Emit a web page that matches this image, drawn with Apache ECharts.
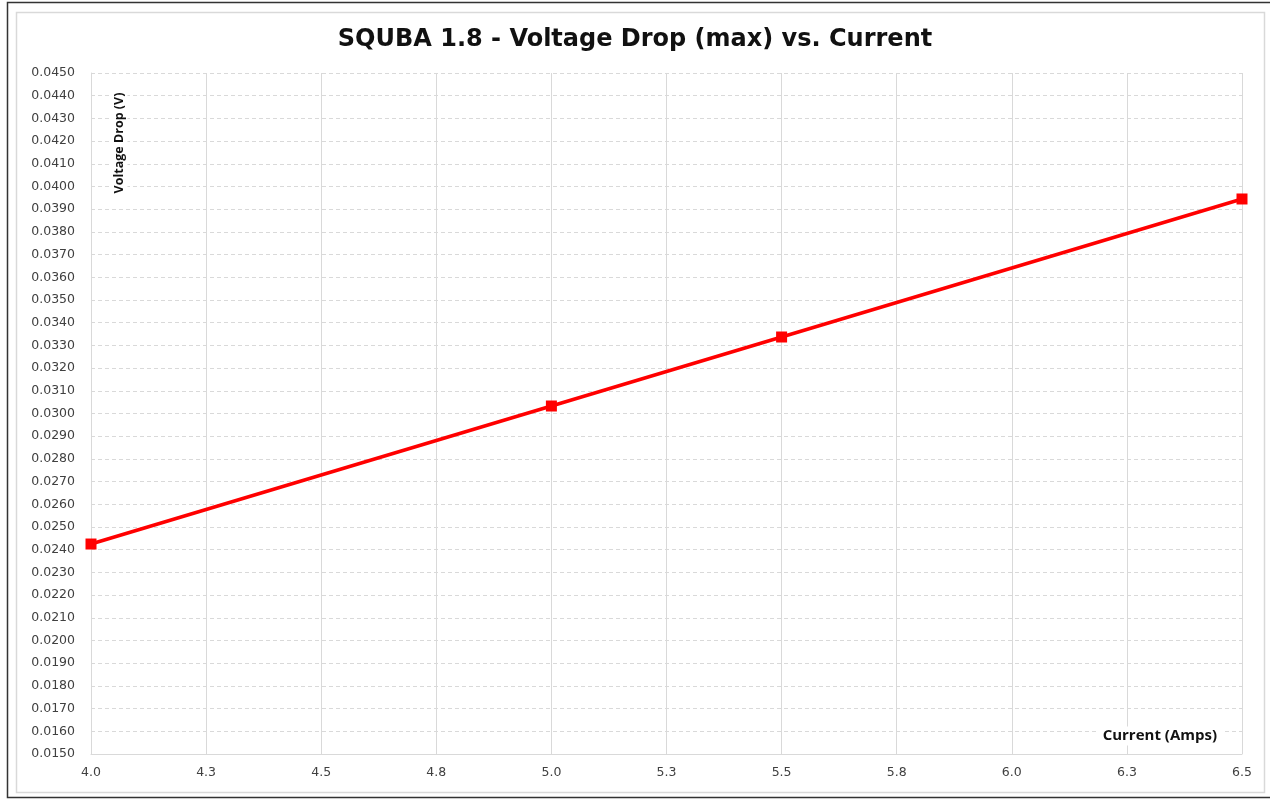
<!DOCTYPE html>
<html>
<head>
<meta charset="utf-8">
<script src="https://cdn.jsdelivr.net/npm/echarts@6/dist/echarts.min.js"></script>
<style>
  html, body { margin: 0; padding: 0; background: #fff; }
  #main { width: 1270px; height: 800px; }
</style>
</head>
<body>
<div id="main"></div>
<script>
// current (A) and max voltage drop (V)
var currentAmps = [4.0, 5.0, 5.5, 6.5];
var voltageDrop = [0.02425, 0.03033, 0.03337, 0.03945];
var xTickLabels = ['4.0', '4.3', '4.5', '4.8', '5.0', '5.3', '5.5', '5.8', '6.0', '6.3', '6.5'];

var chartDom = document.getElementById('main');
var myChart = echarts.init(chartDom);

var points = currentAmps.map(function (x, i) {
  return [x, voltageDrop[i]];
});

var option = {
  backgroundColor: '#fff',
  animation: false,
  title: {
    text: 'SQUBA 1.8 - Voltage Drop (max) vs. Current',
    left: 'center',
    top: 23,
    textStyle: {
      fontFamily: 'DejaVu Sans, sans-serif',
      fontSize: 24,
      fontWeight: 'bold',
      color: '#111'
    }
  },
  grid: {
    left: 91,
    right: 28,
    top: 73,
    bottom: 46
  },
  xAxis: {
    type: 'value',
    min: 4.0,
    max: 6.5,
    interval: 0.25,
    axisLine: { show: true, lineStyle: { color: '#d9d9d9' } },
    axisTick: { show: false },
    splitLine: { show: true, lineStyle: { color: '#d9d9d9', type: 'solid' } },
    axisLabel: {
      margin: 12,
      color: '#404040',
      fontFamily: 'DejaVu Sans, sans-serif',
      fontSize: 12.5,
      formatter: function (v, idx) {
        return xTickLabels[idx] !== undefined ? xTickLabels[idx] : v.toFixed(1);
      }
    }
  },
  yAxis: {
    type: 'value',
    min: 0.015,
    max: 0.045,
    interval: 0.001,
    axisLine: { show: true, lineStyle: { color: '#d9d9d9' } },
    axisTick: { show: false },
    splitLine: { show: true, lineStyle: { color: '#d9d9d9', type: [4, 3] } },
    axisLabel: {
      margin: 16,
      color: '#404040',
      fontFamily: 'DejaVu Sans, sans-serif',
      fontSize: 12.5,
      formatter: function (v) {
        return v.toFixed(4);
      }
    }
  },
  graphic: [
    {
      type: 'rect',
      shape: { x: 7.5, y: 2.5, width: 1270, height: 795 },
      style: { fill: null, stroke: '#333', lineWidth: 1.5 },
      silent: true
    },
    {
      type: 'rect',
      shape: { x: 16.5, y: 12.5, width: 1248, height: 780 },
      style: { fill: null, stroke: '#d9d9d9', lineWidth: 1.5 },
      silent: true
    },
    {
      type: 'text',
      x: 119,
      y: 143,
      rotation: Math.PI / 2,
      z: 100,
      style: {
        text: 'Voltage Drop (V)',
        fontFamily: 'Open Sans, sans-serif',
        fontSize: 12.5,
        fontWeight: 'bold',
        fill: '#111',
        align: 'center',
        verticalAlign: 'middle',
        backgroundColor: '#fff',
        padding: [2, 5]
      }
    },
    {
      type: 'text',
      x: 1222,
      y: 736,
      z: 100,
      style: {
        text: 'Current (Amps)',
        fontFamily: 'Open Sans, sans-serif',
        fontSize: 15,
        fontWeight: 'bold',
        fill: '#111',
        align: 'right',
        verticalAlign: 'middle',
        backgroundColor: '#fff',
        padding: [2, 5]
      }
    }
  ],
  series: [
    {
      type: 'line',
      data: points,
      symbol: 'rect',
      symbolSize: 11,
      lineStyle: { color: '#ff0000', width: 3.5 },
      itemStyle: { color: '#ff0000' },
      clip: false
    }
  ]
};

myChart.setOption(option);
</script>
</body>
</html>
